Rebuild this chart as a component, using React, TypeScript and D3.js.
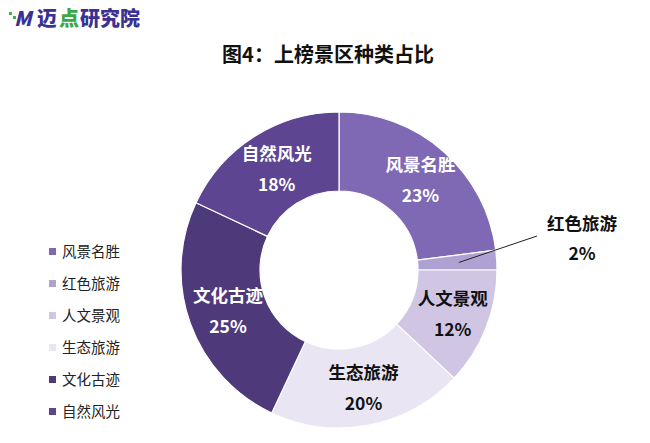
import React from "react";
import * as d3 from "d3";

const categories = ["风景名胜", "红色旅游", "人文景观", "生态旅游", "文化古迹", "自然风光"];
const values = [23, 2, 12, 20, 25, 18];
const colors = ["#8069B4", "#AFA2D2", "#D0C6E4", "#E9E5F3", "#4E3A7B", "#5E4591"];
const labelColors = ["#FFFFFF", "#111111", "#111111", "#111111", "#FFFFFF", "#FFFFFF"];
const title = "图4：上榜景区种类占比";

const W = 650, H = 443;
const cx = 339, cy = 270, R = 158, r0 = 79;

export default function App() {
  const pie = d3.pie<number>().sort(null).startAngle(0).endAngle(2 * Math.PI);
  const arcs = pie(values);
  const arc = d3.arc<d3.PieArcDatum<number>>().innerRadius(r0).outerRadius(R);
  const labelArc = d3.arc<d3.PieArcDatum<number>>().innerRadius(R * 0.76).outerRadius(R * 0.76);
  const font = "'Noto Sans CJK SC', 'Noto Sans', sans-serif";
  return (
    <svg width={W} height={H} style={{ position: "absolute", left: 0, top: 0, background: "#fff" }}>
      {/* logo */}
      <g fontFamily={font}>
        <rect x={9} y={12} width={3} height={3} fill="#3CB54A" />
        <rect x={13} y={16} width={3} height={3} fill="#3CB54A" />
        <text x={14} y={26} fontSize={20} fontWeight={900} fontStyle="italic" fill="#3A3192">M</text>
        <text x={37} y={26} fontSize={20} fontWeight={900} fill="#3A3192">迈</text>
        <text x={59} y={26} fontSize={20} fontWeight={900} fill="#3CA845">点</text>
        <text x={80} y={26} fontSize={20} fontWeight={900} fill="#3A3192">研究院</text>
      </g>
      <text x={328} y={62} textAnchor="middle" fontFamily={font} fontSize={20} fontWeight={700} fill="#111">{title}</text>
      <g transform={`translate(${cx},${cy})`}>
        {arcs.map((a, i) => (
          <path key={i} d={arc(a) || ""} fill={colors[i]} stroke="#fff" strokeWidth={1.2} />
        ))}
      </g>
      {arcs.map((a, i) => {
        if (i === 1) return null;
        const [x, y] = labelArc.centroid(a);
        return (
          <g key={i} fontFamily={font} fontSize={17.5} fontWeight={700} fill={labelColors[i]} textAnchor="middle">
            <text x={cx + x + 2} y={cy + y - 9}>{categories[i]}</text>
            <text x={cx + x + 2} y={cy + y + 22}>{values[i]}%</text>
          </g>
        );
      })}
      {(() => {
        const a = arcs[1];
        const mid = (a.startAngle + a.endAngle) / 2;
        const rr = R * 0.76;
        const x0 = cx + Math.sin(mid) * rr;
        const y0 = cy - Math.cos(mid) * rr;
        return (
          <g fontFamily={font}>
            <line x1={x0} y1={y0} x2={537} y2={236} stroke="#222" strokeWidth={1} />
            <text x={582} y={230} textAnchor="middle" fontSize={17.5} fontWeight={700} fill="#111">{categories[1]}</text>
            <text x={582} y={260} textAnchor="middle" fontSize={17.5} fontWeight={700} fill="#111">{values[1]}%</text>
          </g>
        );
      })()}
      {categories.map((c, i) => (
        <g key={i} fontFamily={font}>
          <rect x={49} y={248 + i * 32} width={7} height={7} fill={colors[i]} />
          <text x={62} y={257 + i * 32} fontSize={14.5} fill="#222">{c}</text>
        </g>
      ))}
    </svg>
  );
}
